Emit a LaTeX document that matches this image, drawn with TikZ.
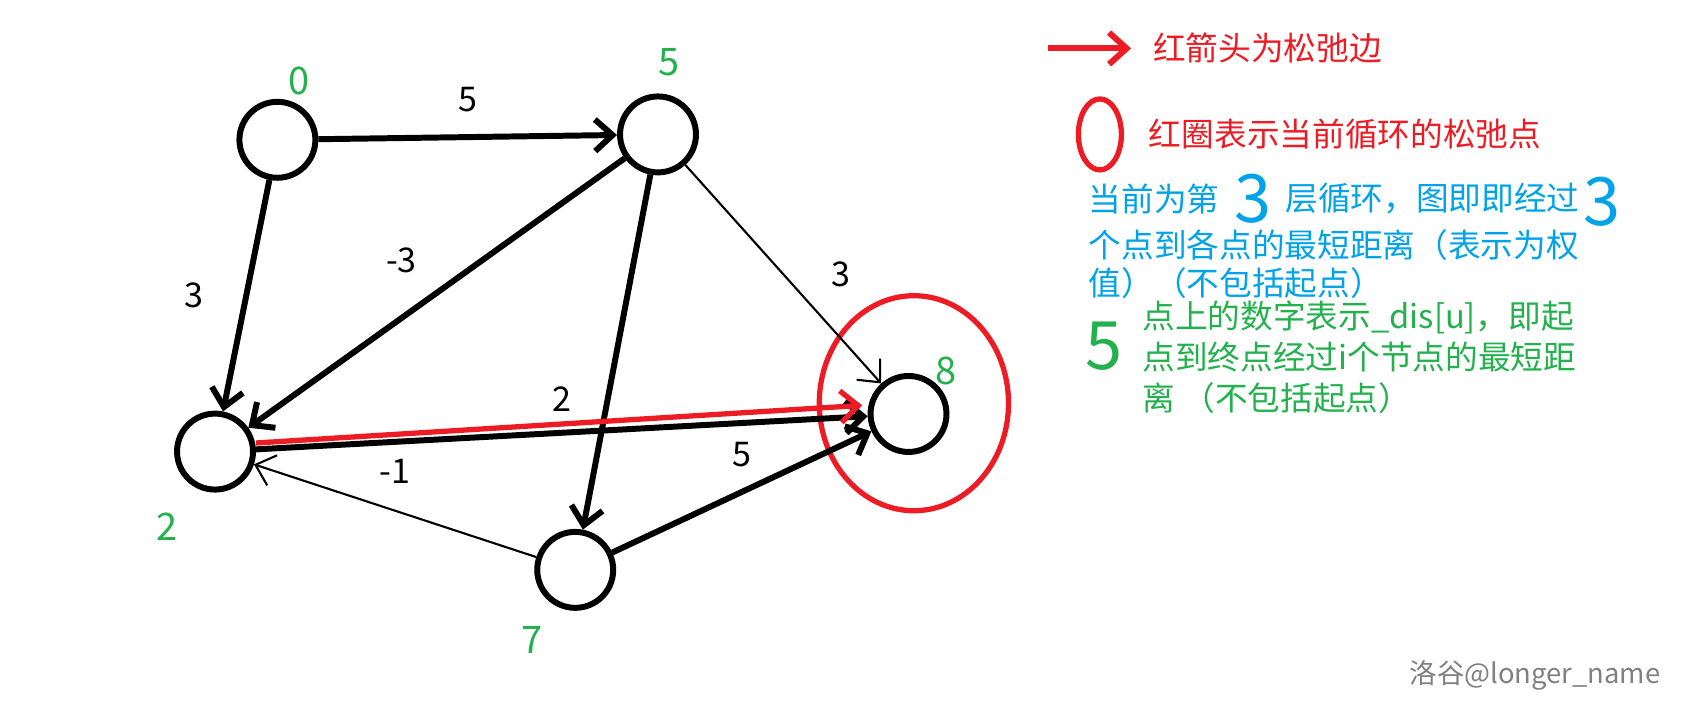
\documentclass[tikz,border=0pt]{standalone}
\usepackage{fontspec}
\newfontfamily\cjk{Noto Sans CJK SC}
\usetikzlibrary{arrows.meta,positioning,calc}
\definecolor{hgreen}{RGB}{34,177,76}
\definecolor{hblue}{RGB}{0,162,232}
\definecolor{hred}{RGB}{237,28,36}
\begin{document}
\begin{tikzpicture}[x=0.01075cm,y=-0.01075cm,
    vertex/.style={circle, draw=black, line width=1.7pt, minimum size=0.76cm, inner sep=0pt},
    edge/.style={-{Straight Barb[length=5pt,width=9pt]}, line width=1.7pt},
    thinedge/.style={-{Straight Barb[length=5pt,width=9pt]}, line width=0.6pt},
    wlabel/.style={font=\cjk\fontsize{9.7}{10}\selectfont},
    dlabel/.style={text=hgreen, font=\cjk\fontsize{10.8}{11}\selectfont},
    bignum/.style={font=\cjk\fontsize{19}{19}\selectfont, inner sep=0pt},
    note/.style={font=\cjk\fontsize{9.3}{10}\selectfont, anchor=west, inner sep=0pt}
]
\clip (0,0) rectangle (1570,666);

% vertices
\node[vertex] (v0) at (258,130) {};
\node[vertex] (v5) at (612,125) {};
\node[vertex] (v2) at (200,420) {};
\node[vertex] (v7) at (535,530) {};
\node[vertex] (v8) at (845,385) {};
\draw[hred, line width=1.5pt] (850,375) ellipse (88 and 100);

% dis labels
\node[dlabel] (d0) at (278,75) {0};
\node[dlabel] (d5) at (622,58) {5};
\node[dlabel] (d2) at (155,490) {2};
\node[dlabel] (d7) at (495,595) {7};
\node[dlabel] (d8) at (880,345) {8};

% edges
\draw[edge] (v0) -- node[wlabel, above=3pt] {5} (v5);
\draw[edge] (v0) -- node[wlabel, left=8pt] {3} (v2);
\draw[edge] (v5) -- node[wlabel, above left=2pt] {-3} (v2);
\draw[edge] (v5) -- (v7);
\draw[thinedge] (v5) -- node[wlabel, right=10pt] {3} (v8);
\draw[edge] (v2) -- node[wlabel, above=2pt] {2} (v8);
\draw[hred, line width=1.5pt, -{Straight Barb[length=5pt,width=9pt]}] ($(v2.east)+(0,-8)$) -- ($(v8.west)+(-5,-8)$);
\draw[thinedge] (v7) -- node[wlabel, above=4pt] {-1} (v2);
\draw[edge] (v7) -- node[wlabel, above=3pt] {5} (v8);

% legend
\coordinate (ra) at (975,45);
\coordinate (rb) at (1052,45);
\draw[hred, line width=1.7pt, -{Straight Barb[length=5pt,width=9pt]}] (ra) -- (rb);
\node[note, text=hred] (n1) at (1072,45) {红箭头为松弛边};
\draw[hred, line width=1.5pt] (1023,125) ellipse (20 and 33);
\node[note, text=hred] (n2) at (1068,125) {红圈表示当前循环的松弛点};
\node[note, text=hblue] (n3) at (1012,185) {当前为第};
\node[bignum, text=hblue] (b3a) at (1165,185) {3};
\node[note, text=hblue] (n4) at (1195,185) {层循环，图即即经过};
\node[bignum, text=hblue] (b3b) at (1490,188) {3};
\node[note, text=hblue] (n5) at (1012,228) {个点到各点的最短距离（表示为权};
\node[note, text=hblue] (n6) at (1012,263) {值）（不包括起点）};
\node[bignum, text=hgreen] (g5) at (1027,322) {5};
\node[note, text=hgreen] (n7) at (1062,295) {点上的数字表示\_dis[u]，即起};
\node[note, text=hgreen] (n8) at (1062,332) {点到终点经过i个节点的最短距};
\node[note, text=hgreen] (n9) at (1062,370) {离 （不包括起点）};
\node[note, text=gray, font=\cjk\fontsize{7.8}{9}\selectfont, anchor=east] (wm) at (1545,628) {洛谷@longer\_name};
\end{tikzpicture}
\end{document}
